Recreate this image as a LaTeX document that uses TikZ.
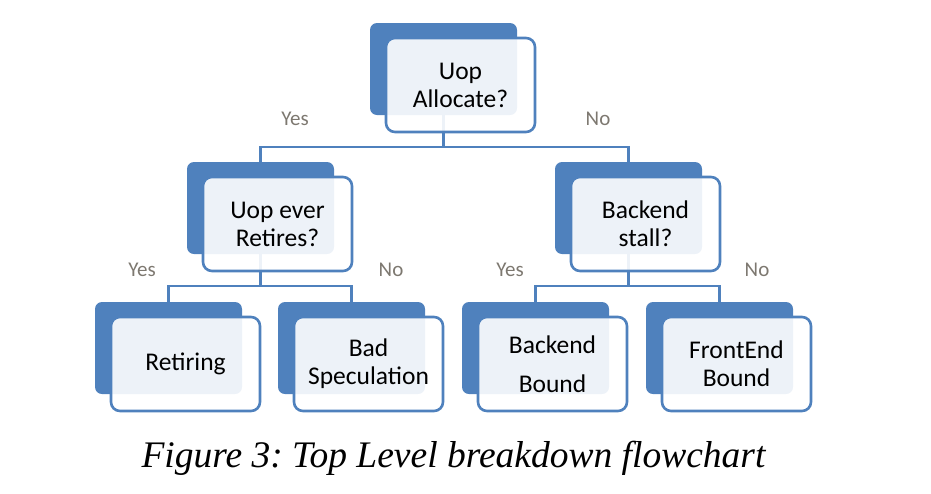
\documentclass[tikz,border=0pt]{standalone}
\usepackage{fontspec}
\setmainfont{Carlito}
\newfontfamily\capfont{Liberation Serif}
\definecolor{ob}{RGB}{79,129,189}
\definecolor{lblc}{RGB}{125,120,112}
\frenchspacing
\begin{document}
\begin{tikzpicture}[x=1pt,y=-1pt,
 backbox/.style={draw=none,fill=ob,rounded corners=7pt,minimum width=147pt,minimum height=92pt,inner sep=0pt},
 frontbox/.style={draw=ob,line width=2.6pt,fill=white,fill opacity=0.9,text opacity=1,draw opacity=1,rounded corners=9pt,minimum width=149pt,minimum height=94pt,inner sep=0pt,align=center,font=\fontsize{25.5}{28}\selectfont},
 conn/.style={draw=ob,line width=2.6pt},
 lbl/.style={text=lblc,font=\fontsize{21}{24}\selectfont}]
\useasboundingbox (0,0) rectangle (931,493);
% junctions
\coordinate (j0) at (443.5,147);
\coordinate (j1) at (260.5,286);
\coordinate (j2) at (628.5,286);
% connectors (drawn first, covered by boxes)
\draw[conn] (443.5,69) -- (j0) -| (260.5,208);
\draw[conn] (j0) -| (628.5,208);
\draw[conn] (260.5,208) -- (j1) -| (168.5,348);
\draw[conn] (j1) -| (351.5,348);
\draw[conn] (628.5,208) -- (j2) -| (535.5,348);
\draw[conn] (j2) -| (719.5,348);
% back boxes
\node[backbox] (tb) at (443.5,69) {};
\node[backbox] (lb) at (260.5,208) {};
\node[backbox] (rb) at (628.5,208) {};
\node[backbox] (b1b) at (168.5,348) {};
\node[backbox] (b2b) at (351.5,348) {};
\node[backbox] (b3b) at (535.5,348) {};
\node[backbox] (b4b) at (719.5,348) {};
% front boxes
\node[frontbox] (t) at (460.5,85) {Uop\\Allocate?};
\node[frontbox] (l) at (277.5,224) {Uop ever\\Retires?};
\node[frontbox] (r) at (645.5,224) {Backend\\stall?};
\node[frontbox] (b1) at (185.5,364) {Retiring};
\node[frontbox] (b2) at (368.5,364) {Bad\\Speculation};
\node[frontbox] (b3) at (552.5,364) {Backend\\[11pt]Bound};
\node[frontbox] (b4) at (736.5,364) {FrontEnd\\Bound};
% labels
\node[lbl] (y0) at (295,119) {Yes};
\node[lbl] (n0) at (598,119) {No};
\node[lbl] (y1) at (142,270) {Yes};
\node[lbl] (n1) at (391,270) {No};
\node[lbl] (y2) at (510,270) {Yes};
\node[lbl] (n2) at (757,270) {No};
% caption
\node[font=\capfont\itshape\fontsize{37.5}{42}\selectfont] (cap) at (453.5,458) {Figure 3: Top Level breakdown flowchart};
\end{tikzpicture}
\end{document}
